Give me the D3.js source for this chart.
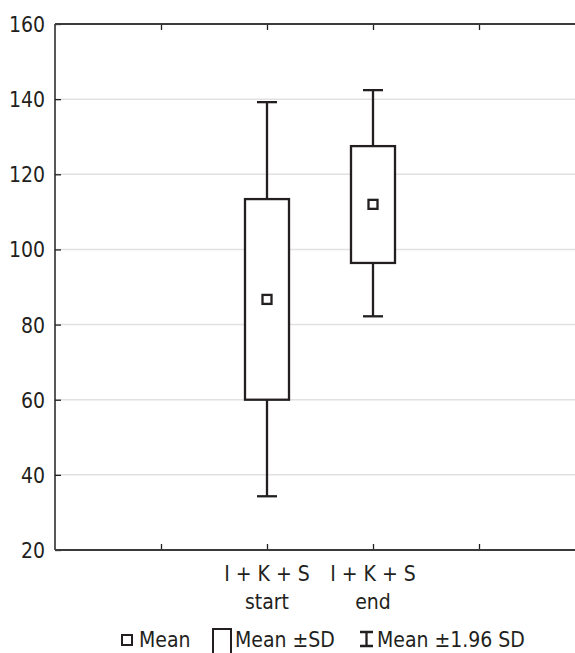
<!DOCTYPE html>
<html>
<head>
<meta charset="utf-8">
<script src="https://cdn.jsdelivr.net/npm/d3@7"></script>
<style>
  body { margin: 0; background: #fff; }
  text { font-family: "DejaVu Sans Condensed", "DejaVu Sans", sans-serif; font-stretch: condensed; fill: #231f20; }
</style>
</head>
<body>
<div id="chart"></div>
<script>
// Data
const categories = [["I + K + S", "start"], ["I + K + S", "end"]];
const catPos = [2, 3];
const means = [86.7, 112.0];
const sdLow = [60.0, 96.4];
const sdHigh = [113.4, 127.5];
const ciLow = [34.3, 82.2];
const ciHigh = [139.2, 142.4];
const yTicks = [20, 40, 60, 80, 100, 120, 140, 160];
const xTicks = [1, 2, 3, 4];

const W = 575, H = 653;
const margin = { top: 24, right: 0, bottom: 103, left: 55 };
const ink = "#231f20";
const fs = 21;

const svg = d3.select("#chart").append("svg")
  .attr("width", W).attr("height", H);

const x = d3.scaleLinear().domain([0, 5]).range([margin.left, margin.left + 530]);
const y = d3.scaleLinear().domain([20, 160]).range([H - margin.bottom, margin.top]);

// gridlines
svg.append("g").selectAll("line")
  .data(yTicks.filter(d => d > 20 && d < 160))
  .join("line")
  .attr("x1", margin.left).attr("x2", W)
  .attr("y1", d => y(d)).attr("y2", d => y(d))
  .attr("stroke", "#e1e1e1").attr("stroke-width", 1.5);

// left axis, ticks inside
const gY = svg.append("g")
  .attr("transform", `translate(${margin.left},0)`)
  .call(d3.axisLeft(y).tickValues(yTicks).tickSize(-6).tickPadding(10));
gY.select(".domain").remove();
gY.selectAll(".tick line").attr("stroke", ink).attr("stroke-width", 1.3);
gY.selectAll(".tick text").attr("font-size", fs).attr("dy", "0.36em").attr("x", -10);

svg.append("line")
  .attr("x1", margin.left).attr("x2", margin.left)
  .attr("y1", y(160)).attr("y2", y(20))
  .attr("stroke", ink).attr("stroke-width", 1.5);

// bottom and top axes, ticks inside
const gX = svg.append("g")
  .attr("transform", `translate(0,${y(20)})`)
  .call(d3.axisBottom(x).tickValues(xTicks).tickSize(-6).tickFormat(""));
const gXt = svg.append("g")
  .attr("transform", `translate(0,${y(160)})`)
  .call(d3.axisTop(x).tickValues(xTicks).tickSize(-6).tickFormat(""));
[gX, gXt].forEach(g => {
  g.select(".domain").remove();
  g.selectAll(".tick line").attr("stroke", ink).attr("stroke-width", 1.3);
});
[y(20), y(160)].forEach(yy => {
  svg.append("line")
    .attr("x1", margin.left).attr("x2", W)
    .attr("y1", yy).attr("y2", yy)
    .attr("stroke", "#3a3a3a").attr("stroke-width", 1.8);
});

// category labels
const catLabels = svg.append("g").selectAll("text")
  .data(categories)
  .join("text")
  .attr("text-anchor", "middle")
  .attr("font-size", fs)
  .attr("transform", (d, i) => `translate(${x(catPos[i])},${y(20) + 31})`);
catLabels.selectAll("tspan")
  .data(d => d)
  .join("tspan")
  .attr("x", 0)
  .attr("dy", (d, i) => i === 0 ? 0 : 28)
  .text(d => d);

// boxes
const boxW = 44, capW = 20, meanS = 9;
const groups = svg.append("g").selectAll("g")
  .data(means.map((m, i) => ({ m, i })))
  .join("g");

groups.append("line")
  .attr("x1", d => x(catPos[d.i])).attr("x2", d => x(catPos[d.i]))
  .attr("y1", d => y(ciHigh[d.i])).attr("y2", d => y(ciLow[d.i]))
  .attr("stroke", ink).attr("stroke-width", 2.3);
groups.selectAll(".cap")
  .data(d => [ciLow[d.i], ciHigh[d.i]].map(v => ({ v, i: d.i })))
  .join("line")
  .attr("class", "cap")
  .attr("x1", d => x(catPos[d.i]) - capW / 2).attr("x2", d => x(catPos[d.i]) + capW / 2)
  .attr("y1", d => y(d.v)).attr("y2", d => y(d.v))
  .attr("stroke", ink).attr("stroke-width", 2.3);
groups.append("rect")
  .attr("x", d => x(catPos[d.i]) - boxW / 2)
  .attr("width", boxW)
  .attr("y", d => y(sdHigh[d.i]))
  .attr("height", d => y(sdLow[d.i]) - y(sdHigh[d.i]))
  .attr("fill", "#fff").attr("stroke", ink).attr("stroke-width", 2.3);
groups.append("rect")
  .attr("x", d => x(catPos[d.i]) - meanS / 2)
  .attr("y", d => y(d.m) - meanS / 2)
  .attr("width", meanS).attr("height", meanS)
  .attr("fill", "#fff").attr("stroke", ink).attr("stroke-width", 2.3);

// legend
const lg = svg.append("g");
const ly = 647;
lg.append("rect").attr("x", 122).attr("y", ly - 12).attr("width", 10).attr("height", 10)
  .attr("fill", "#fff").attr("stroke", ink).attr("stroke-width", 2);
lg.append("text").attr("x", 139).attr("y", ly).attr("font-size", fs).text("Mean");
lg.append("path").attr("d", `M213,${H} V${ly - 18} H231 V${H}`)
  .attr("fill", "none").attr("stroke", ink).attr("stroke-width", 2);
lg.append("text").attr("x", 235).attr("y", ly).attr("font-size", fs).text("Mean \u00b1SD");
lg.append("path").attr("d", `M360,${ly - 15} H373 M366.5,${ly - 15} V${ly - 1} M360,${ly - 1} H373`)
  .attr("fill", "none").attr("stroke", ink).attr("stroke-width", 2.3);
lg.append("text").attr("x", 377).attr("y", ly).attr("font-size", fs).text("Mean \u00b11.96 SD");
</script>
</body>
</html>
